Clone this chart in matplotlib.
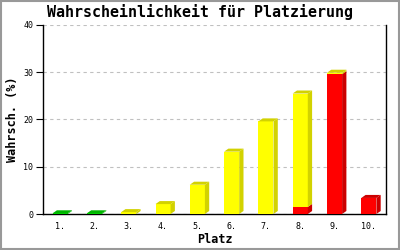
#!/usr/bin/env python

import matplotlib as mpl
mpl.use('Agg')

import matplotlib.pyplot as plt
from matplotlib.patches import Rectangle, Polygon
import numpy as np


dpi = 100.0
figsize = (4.0, 2.5)

# data (percent per place)
places = ['1.', '2.', '3.', '4.', '5.', '6.', '7.', '8.', '9.', '10.']
red = [0, 0, 0, 0, 0, 0, 0, 1.5, 29.6, 3.4]
yellow = [0, 0, 0.4, 2.1, 6.2, 13.2, 19.6, 24.0, 0.3, 0]
green = [0.15, 0.15, 0, 0, 0, 0, 0, 0, 0, 0]

series = [(red, '#ff0000', '#cc0000'),
          (yellow, '#ffff00', '#d2d200'),
          (green, '#00d800', '#00b400')]

title = 'Wahrscheinlichkeit für Platzierung'
mono = 'DejaVu Sans Mono'

axpos = [0.1075, 0.144, 0.8575, 0.756]
ymax = 40
barw = 0.44
depth_px = (4.3, 3.0)


def draw3d(ax, x, b, h, front, side, top, dx, dy):
    x0 = x - barw / 2
    x1 = x + barw / 2
    ax.add_patch(Rectangle((x0, b), barw, h, facecolor=front, edgecolor='none', zorder=3))
    ax.add_patch(Polygon([(x1, b), (x1 + dx, b + dy), (x1 + dx, b + h + dy), (x1, b + h)],
                         closed=True, facecolor=side, edgecolor='none', zorder=3))
    if top:
        ax.add_patch(Polygon([(x0, b + h), (x0 + dx, b + h + dy), (x1 + dx, b + h + dy), (x1, b + h)],
                             closed=True, facecolor=side, edgecolor='none', zorder=3))


fig = plt.figure(figsize=figsize, dpi=dpi)
ax = fig.add_axes(axpos)

n = len(places)
xs = np.arange(1, n + 1)
ax.set_xlim(0.5, n + 0.5)
ax.set_ylim(0, ymax)

# depth of the fake 3d look, pixels -> data units
wpx = figsize[0] * dpi * axpos[2]
hpx = figsize[1] * dpi * axpos[3]
dx = depth_px[0] * n / wpx
dy = depth_px[1] * ymax / hpx

totals = np.sum([s[0] for s in series], axis=0)
for i, x in enumerate(xs):
    b = 0.0
    for vals, front, side in series:
        h = vals[i]
        if h <= 0:
            continue
        istop = abs(b + h - totals[i]) < 1e-9
        draw3d(ax, x, b, h, front, side, istop, dx, dy)
        b += h

ax.set_yticks([0, 10, 20, 30, 40])
ax.set_xticks(xs)
ax.set_xticklabels(places)
ax.yaxis.grid(True, color='#c0c0c0', linestyle=(0, (3, 3)), linewidth=0.8)
ax.set_axisbelow(True)

ax.tick_params(axis='y', direction='out', length=5, width=0.8, pad=2, labelsize=6)
ax.tick_params(axis='x', length=0, pad=6, labelsize=6)
for lab in ax.get_xticklabels() + ax.get_yticklabels():
    lab.set_family(mono)

ax.spines['top'].set_visible(False)
for s in ['left', 'bottom', 'right']:
    ax.spines[s].set_linewidth(1.0)
    ax.spines[s].set_color('black')

ax.set_xlabel('Platz', family=mono, fontweight='bold', fontsize=8.5, labelpad=1)
ax.set_ylabel('Wahrsch. (%)', family=mono, fontweight='bold', fontsize=8.5, labelpad=3)
fig.text(0.5, 0.952, title, family=mono, fontweight='bold', fontsize=10.8,
         ha='center', va='center')

# grey frame round the picture
fig.patches.append(Rectangle((0.002, 0.003), 0.996, 0.994, transform=fig.transFigure,
                             fill=False, edgecolor='#999999', linewidth=1.5))

plt.savefig('out.png', dpi=dpi)
plt.close()
